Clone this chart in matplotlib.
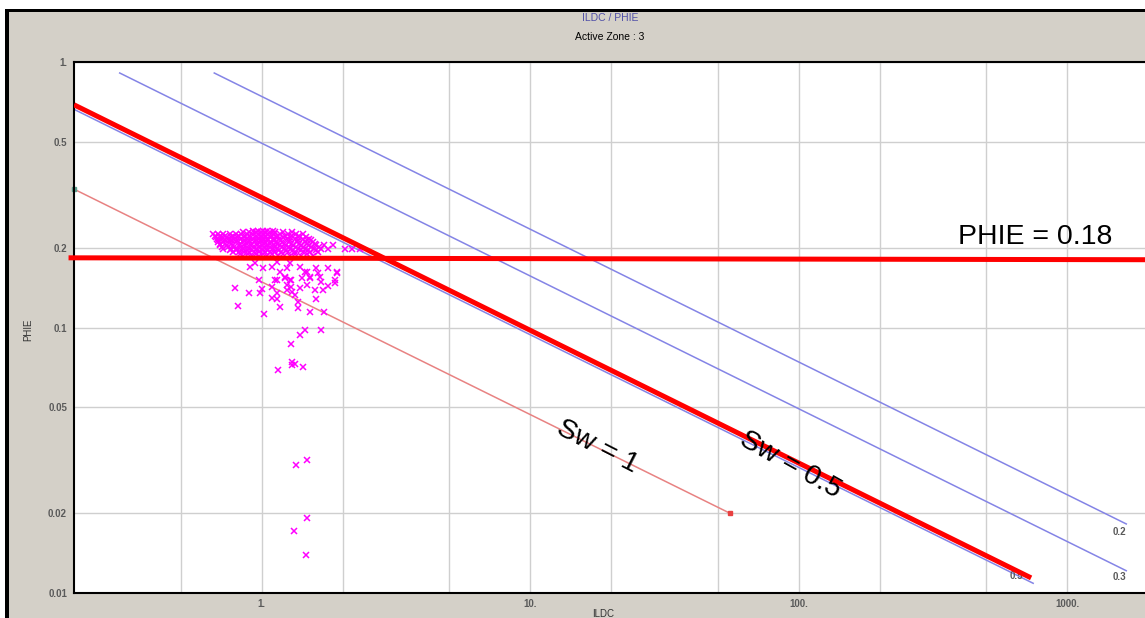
import matplotlib
matplotlib.use('Agg')
import matplotlib.pyplot as plt
from matplotlib.patches import Rectangle

plt.rcParams['font.family'] = ['Liberation Sans', 'DejaVu Sans']

############### DATA ###############
# Sw lines drawn by the software (start / end points, ILDC vs PHIE)
sw_labels = ['0.2', '0.3', '0.5']
sw_rt = [[0.666, 1660], [0.296, 1660], [0.1065, 747]]
sw_phi = [[0.909, 0.0182], [0.909, 0.01213], [0.909, 0.01088]]
sw_label_rt = [1563, 1563, 645]
sw_label_phi = [0.0170, 0.0115, 0.0116]

sw1_rt = [0.2, 55.3]
sw1_phi = [0.332, 0.020]

# hand drawn annotations
red_sw_rt = [0.2, 734]
red_sw_phi = [0.69, 0.0114]
cut_rt = [0.195, 2000]
cut_phi = [0.183, 0.180]

# dense cluster, one row of points per PHIE level
band_phi = [0.230, 0.228, 0.225, 0.222, 0.219, 0.216, 0.213, 0.210, 0.207,
            0.204, 0.201, 0.198, 0.195, 0.192, 0.189, 0.186]
band_rt = [
    [0.93, 0.97, 1.01, 1.05, 1.10],
    [0.85, 0.90, 0.95, 0.99, 1.03, 1.07, 1.12, 1.20, 1.30],
    [0.66, 0.69, 0.72, 0.76, 0.80, 0.84, 0.88, 0.92, 0.97, 1.01, 1.06, 1.11, 1.17, 1.25, 1.34, 1.42],
    [0.67, 0.70, 0.73, 0.78, 0.82, 0.87, 0.90, 0.95, 0.99, 1.04, 1.09, 1.15, 1.22, 1.30, 1.38],
    [0.675, 0.71, 0.74, 0.77, 0.81, 0.86, 0.91, 0.96, 1.00, 1.03, 1.07, 1.13, 1.20, 1.28, 1.37, 1.46],
    [0.68, 0.71, 0.75, 0.79, 0.84, 0.88, 0.93, 0.97, 1.01, 1.05, 1.10, 1.16, 1.24, 1.33, 1.42, 1.50],
    [0.69, 0.73, 0.77, 0.81, 0.86, 0.90, 0.95, 0.99, 1.02, 1.06, 1.12, 1.18, 1.27, 1.37, 1.47, 1.53],
    [0.69, 0.72, 0.76, 0.80, 0.85, 0.89, 0.94, 0.98, 1.03, 1.08, 1.13, 1.19, 1.26, 1.35, 1.45, 1.55],
    [0.70, 0.73, 0.77, 0.83, 0.88, 0.92, 0.97, 1.02, 1.07, 1.14, 1.21, 1.29, 1.38, 1.48, 1.58],
    [0.70, 0.74, 0.78, 0.82, 0.86, 0.91, 0.96, 1.00, 1.05, 1.11, 1.17, 1.23, 1.31, 1.40, 1.50, 1.60, 1.70, 1.84],
    [0.71, 0.75, 0.79, 0.84, 0.88, 0.93, 0.98, 1.02, 1.07, 1.12, 1.19, 1.26, 1.34, 1.43, 1.53, 1.63],
    [0.72, 0.77, 0.81, 0.85, 0.90, 0.95, 1.00, 1.04, 1.09, 1.14, 1.21, 1.28, 1.36, 1.45, 1.56, 1.66, 1.76, 2.04, 2.17, 2.32],
    [0.76, 0.80, 0.84, 0.88, 0.92, 0.97, 1.01, 1.06, 1.11, 1.16, 1.23, 1.31, 1.40, 1.49, 1.59],
    [0.78, 0.82, 0.86, 0.90, 0.94, 0.98, 1.03, 1.07, 1.12, 1.18, 1.25, 1.33, 1.42, 1.52, 1.62],
    [0.83, 0.89, 0.95, 1.01, 1.09, 1.20, 1.33, 1.47],
    [0.85, 0.92, 0.98, 1.05, 1.15, 1.27, 1.40, 1.55],
]

# scattered points below the cluster
spread_rt = [0.902, 0.942, 1.01, 1.09, 1.14, 1.17, 1.24, 1.27, 1.39, 1.47, 1.51, 1.60, 1.76, 1.90,
             1.87, 1.22, 1.29, 1.12, 0.98, 0.793, 0.814, 0.894, 0.983, 1.00, 1.02, 1.09, 1.09,
             1.14, 1.14, 1.14, 1.17, 1.22, 1.24, 1.24, 1.27, 1.29, 1.30, 1.33, 1.36, 1.36, 1.39,
             1.41, 1.45, 1.47, 1.51, 1.51, 1.58, 1.60, 1.62, 1.65, 1.67, 1.69, 1.70, 1.76, 1.87,
             1.90, 1.39, 1.45, 1.67, 1.29, 1.30, 1.33, 1.30, 1.43, 1.15,
             1.34, 1.47, 1.47, 1.32, 1.46]
spread_phi = [0.169, 0.175, 0.168, 0.169, 0.176, 0.162, 0.168, 0.175, 0.169, 0.162, 0.154, 0.168,
              0.168, 0.162, 0.151, 0.154, 0.151, 0.151, 0.151, 0.141, 0.120, 0.135, 0.135, 0.140,
              0.112, 0.142, 0.129, 0.151, 0.135, 0.128, 0.119, 0.155, 0.145, 0.139, 0.151, 0.142,
              0.136, 0.133, 0.125, 0.118, 0.141, 0.154, 0.162, 0.145, 0.155, 0.114, 0.139, 0.128,
              0.160, 0.155, 0.148, 0.139, 0.114, 0.143, 0.147, 0.160, 0.094, 0.098, 0.098, 0.087,
              0.074, 0.073, 0.072, 0.071, 0.069,
              0.0303, 0.0316, 0.0191, 0.0171, 0.0139]

x_major = [1, 10, 100, 1000]
x_major_labels = ['1.', '10.', '100.', '1000.']
x_minor = [0.5, 2, 5, 20, 50, 200, 500, 2000]
y_ticks = [0.01, 0.02, 0.05, 0.1, 0.2, 0.5, 1]
y_tick_labels = ['0.01', '0.02', '0.05', '0.1', '0.2', '0.5', '1.']

############### FIGURE ###############
W, H = 1145, 618
fig = plt.figure(figsize=(W / 100, H / 100), dpi=100, facecolor='#d4d0c8')
ax = fig.add_axes([74 / W, 25 / H, (1148 - 74) / W, (593 - 62) / H])
ax.set_facecolor('white')
ax.set_xscale('log')
ax.set_yscale('log')
ax.set_xlim(0.2, 2000)
ax.set_ylim(0.01, 1)

ax.set_xticks(x_major)
ax.set_xticklabels(x_major_labels)
ax.set_xticks(x_minor, minor=True)
ax.set_xticklabels([''] * len(x_minor), minor=True)
ax.set_yticks(y_ticks)
ax.set_yticklabels(y_tick_labels)
ax.yaxis.set_minor_locator(matplotlib.ticker.NullLocator())
ax.tick_params(which='both', length=0, labelsize=7, labelcolor='#5a5a5a')
ax.tick_params(axis='y', pad=5)
ax.tick_params(axis='x', pad=4)
for lbl in ax.get_xticklabels() + ax.get_yticklabels():
    lbl.set_fontweight('bold')
ax.grid(which='both', color='#cfcfcf', lw=1)
ax.set_axisbelow(True)
for s in ['left', 'bottom', 'top']:
    ax.spines[s].set_color('black')
    ax.spines[s].set_linewidth(1.5)
ax.spines['right'].set_visible(False)

# software Sw lines
for lab, rts, phis, lx, ly in zip(sw_labels, sw_rt, sw_phi, sw_label_rt, sw_label_phi):
    ax.plot(rts, phis, color='#8484e6', lw=1.1, zorder=2)
    ax.text(lx, ly, lab, fontsize=7, fontweight='bold', color='#5a5a5a', ha='center', va='center', zorder=2)
ax.plot(sw1_rt, sw1_phi, color='#e88282', lw=1.1, zorder=2)
ax.plot(sw1_rt[1], sw1_phi[1], 's', color='#e84040', ms=3, zorder=2)
ax.plot(sw1_rt[0], sw1_phi[0], 's', color='#5e9e8e', ms=3, zorder=2, clip_on=False)

# data points
pts_rt, pts_phi = [], []
for phi, row in zip(band_phi, band_rt):
    pts_rt += row
    pts_phi += [phi] * len(row)
pts_rt += spread_rt
pts_phi += spread_phi
ax.plot(pts_rt, pts_phi, 'x', color='#ff00ff', ms=3.8, mew=1.1, zorder=3)

# annotations
ax.plot(red_sw_rt, red_sw_phi, color='red', lw=3.6, zorder=4, solid_capstyle='butt')
ax.plot(cut_rt, cut_phi, color='red', lw=3.6, zorder=4, clip_on=False)
ax.text(392, 0.219, 'PHIE = 0.18', fontsize=20.5, ha='left', va='center', zorder=5)
ax.text(17.8, 0.0355, 'Sw = 1', fontsize=20.5, rotation=-27, ha='center', va='center',
        rotation_mode='anchor', zorder=5)
ax.text(93.3, 0.0303, 'Sw = 0.5', fontsize=20.5, rotation=-29, ha='center', va='center',
        rotation_mode='anchor', zorder=5)

# titles and axis names
fig.text(610 / W, 1 - 18 / H, 'ILDC / PHIE', fontsize=7.5, color='#5050a8', ha='center', va='center')
fig.text(610 / W, 1 - 37 / H, 'Active Zone : 3', fontsize=7.5, color='black', ha='center', va='center')
fig.text(28 / W, 1 - 330 / H, 'PHIE', fontsize=7, color='#333333', rotation=90, ha='center', va='center')
fig.text(603 / W, 1 - 614 / H, 'ILDC', fontsize=7, color='#333333', ha='center', va='center')

# window frame
fig.add_artist(Rectangle((0, 1 - 9 / H), 1, 9 / H, transform=fig.transFigure, color='white', lw=0))
fig.add_artist(Rectangle((0, 1 - 12 / H), 1, 3 / H, transform=fig.transFigure, color='black', lw=0))
fig.add_artist(Rectangle((0, 0), 5 / W, 1, transform=fig.transFigure, color='white', lw=0))
fig.add_artist(Rectangle((5 / W, 0), 4 / W, 1 - 9 / H, transform=fig.transFigure, color='black', lw=0))

fig.savefig('out.png', dpi=100, facecolor=fig.get_facecolor())
